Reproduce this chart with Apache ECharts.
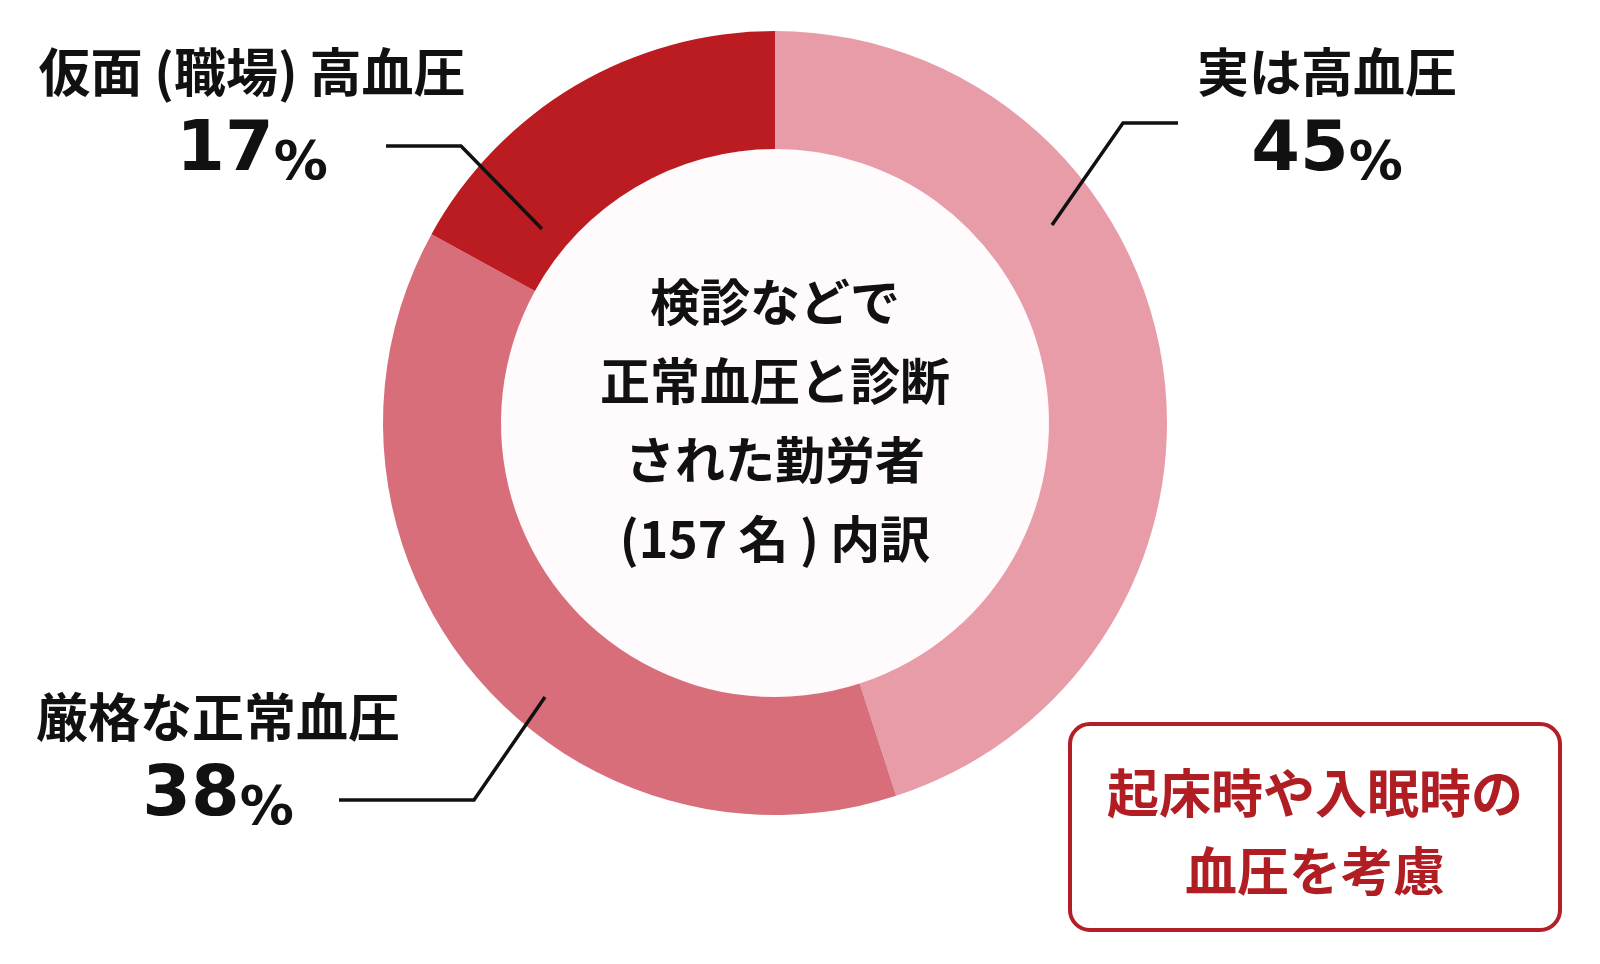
<!DOCTYPE html>
<html>
<head>
	<meta charset="utf-8">
	<title>正常血圧と診断された勤労者の内訳</title>
	<script src="https://cdn.jsdelivr.net/npm/echarts@6/dist/echarts.min.js"></script>
	<style>
		html, body { margin: 0; padding: 0; background: #fff; }
	</style>
</head>
<body>
	<div id="main" style="width: 1600px; height: 964px"></div>
	<script type="text/javascript">
		// データ（上から時計回り）
		var categories = ['実は高血圧', '厳格な正常血圧', '仮面 (職場) 高血圧'];
		var shares = [45, 38, 17];
		var sliceColors = ['#E89CA7', '#D86E7A', '#BA1C22'];
		var centerTitle = ['検診などで', '正常血圧と診断', 'された勤労者', '(157 名 ) 内訳'];
		var noteLines = ['起床時や入眠時の', '血圧を考慮'];

		// ラベルの置き場所と引き出し線
		var labelSpots = [[1327, 112], [218, 757], [252, 112]];
		var leaderLines = [
			[[1052, 225], [1123, 123], [1178, 123]],
			[[545, 697], [474, 800], [339, 800]],
			[[542, 229], [461, 146], [386, 146]]
		];

		var jp = '"Noto Sans CJK JP", "Noto Sans", sans-serif';
		var num = '"DejaVu Sans", sans-serif';

		var myChart = echarts.init(document.getElementById('main'));

		var pieData = categories.map(function (c, i) {
			return { name: c, value: shares[i], itemStyle: { color: sliceColors[i] } };
		});

		// 引き出し線はリングの上に重ねる
		var guideGraphics = leaderLines.map(function (pts) {
			return {
				type: 'polyline',
				z: 100,
				silent: true,
				shape: { points: pts },
				style: { stroke: '#111', lineWidth: 3.5, fill: null }
			};
		});

		option = {
			backgroundColor: '#fff',
			animation: false,
			graphic: [
				{
					type: 'text',
					z: 10,
					style: {
						text: centerTitle.join('\n'),
						x: 775, y: 420,
						align: 'center', verticalAlign: 'middle',
						font: 'bold 50px ' + jp,
						lineHeight: 79,
						fill: '#111'
					}
				},
				{
					type: 'rect',
					shape: { x: 1070, y: 724, width: 490, height: 206, r: 20 },
					style: { fill: '#fff', stroke: '#B31F26', lineWidth: 4 }
				},
				{
					type: 'text',
					z: 10,
					style: {
						text: noteLines.join('\n'),
						x: 1315, y: 832,
						align: 'center', verticalAlign: 'middle',
						font: 'bold 52px ' + jp,
						lineHeight: 78,
						fill: '#B01E24'
					}
				}
			].concat(guideGraphics),
			series: [
				{
					// 中の淡い円
					type: 'pie',
					silent: true,
					center: [775, 423],
					radius: [0, 274],
					label: { show: false },
					labelLine: { show: false },
					data: [{ value: 1, itemStyle: { color: '#FFFAFB' } }]
				},
				{
					type: 'pie',
					center: [775, 423],
					radius: [274, 392],
					startAngle: 90,
					clockwise: true,
					avoidLabelOverlap: false,
					itemStyle: { borderWidth: 0 },
					label: {
						show: true,
						position: 'outside',
						formatter: function (p) {
							return '{n|' + p.name + '}\n{v|' + p.value + '}{p|%}';
						},
						rich: {
							n: { fontFamily: jp, fontWeight: 'bold', fontSize: 52, lineHeight: 80, color: '#111' },
							v: { fontFamily: num, fontWeight: 'bold', fontSize: 70, lineHeight: 80, color: '#111' },
							p: { fontFamily: num, fontWeight: 'bold', fontSize: 54, lineHeight: 70, verticalAlign: 'bottom', color: '#111' }
						}
					},
					labelLine: { show: false },
					labelLayout: function (params) {
						var i = params.dataIndex;
						return {
							x: labelSpots[i][0],
							y: labelSpots[i][1],
							align: 'center',
							verticalAlign: 'middle'
						};
					},
					data: pieData
				}
			]
		};

		myChart.setOption(option);
	</script>
</body>
</html>
